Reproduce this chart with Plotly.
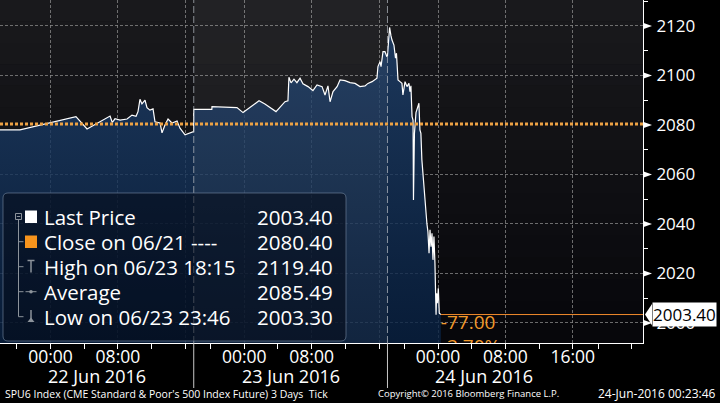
import plotly.graph_objects as go

# ---------------- data ----------------
times = [
    # 22 Jun 2016 session
    "2016-06-21 18:00", "2016-06-21 20:22", "2016-06-22 03:01", "2016-06-22 04:20",
    "2016-06-22 07:04", "2016-06-22 07:20", "2016-06-22 07:39", "2016-06-22 08:15",
    "2016-06-22 09:05", "2016-06-22 09:40", "2016-06-22 10:09", "2016-06-22 10:23",
    "2016-06-22 10:37", "2016-06-22 10:51", "2016-06-22 11:13", "2016-06-22 11:27",
    "2016-06-22 11:48", "2016-06-22 12:10", "2016-06-22 12:24", "2016-06-22 13:00",
    "2016-06-22 13:14", "2016-06-22 13:35", "2016-06-22 13:57", "2016-06-22 14:25",
    "2016-06-22 15:01", "2016-06-22 15:22", "2016-06-22 15:58", "2016-06-22 16:33",
    "2016-06-22 16:59",
    # 23 Jun 2016 session
    "2016-06-22 18:00", "2016-06-22 20:09", "2016-06-22 20:10", "2016-06-22 23:08",
    "2016-06-22 23:51", "2016-06-23 01:45", "2016-06-23 02:27", "2016-06-23 03:46",
    "2016-06-23 04:50", "2016-06-23 05:11", "2016-06-23 05:18", "2016-06-23 05:33",
    "2016-06-23 05:54", "2016-06-23 06:15", "2016-06-23 06:37", "2016-06-23 06:58",
    "2016-06-23 07:34", "2016-06-23 08:09", "2016-06-23 08:38", "2016-06-23 09:14",
    "2016-06-23 09:35", "2016-06-23 09:56", "2016-06-23 10:11", "2016-06-23 10:32",
    "2016-06-23 11:01", "2016-06-23 11:22", "2016-06-23 11:57", "2016-06-23 12:33",
    "2016-06-23 13:09", "2016-06-23 13:44", "2016-06-23 14:20", "2016-06-23 14:41",
    "2016-06-23 15:10", "2016-06-23 15:45", "2016-06-23 15:52", "2016-06-23 16:07",
    "2016-06-23 16:14", "2016-06-23 16:28", "2016-06-23 16:42", "2016-06-23 16:56",
    # 24 Jun 2016 session
    "2016-06-23 18:00", "2016-06-23 18:04", "2016-06-23 18:15", "2016-06-23 18:25",
    "2016-06-23 18:32", "2016-06-23 18:46", "2016-06-23 18:57", "2016-06-23 19:04",
    "2016-06-23 19:15", "2016-06-23 19:29", "2016-06-23 19:43", "2016-06-23 19:50",
    "2016-06-23 20:05", "2016-06-23 20:19", "2016-06-23 20:33", "2016-06-23 20:40",
    "2016-06-23 20:47", "2016-06-23 20:55", "2016-06-23 21:02", "2016-06-23 21:05",
    "2016-06-23 21:12", "2016-06-23 21:23", "2016-06-23 21:37", "2016-06-23 21:44",
    "2016-06-23 21:51", "2016-06-23 21:58", "2016-06-23 22:05", "2016-06-23 22:20",
    "2016-06-23 22:27", "2016-06-23 22:34", "2016-06-23 22:41", "2016-06-23 22:48",
    "2016-06-23 22:56", "2016-06-23 23:03", "2016-06-23 23:10", "2016-06-23 23:17",
    "2016-06-23 23:24", "2016-06-23 23:31", "2016-06-23 23:38", "2016-06-23 23:46",
    "2016-06-23 23:50", "2016-06-23 23:55", "2016-06-24 00:02", "2016-06-24 00:09",
    "2016-06-24 00:20",
]
prices = [
    2078.0, 2078.0, 2083.4, 2078.4,
    2083.6, 2081.0, 2082.5, 2082.0,
    2082.4, 2084.0, 2083.5, 2085.4,
    2090.4, 2088.5, 2090.0, 2087.0,
    2086.0, 2086.5, 2081.3, 2080.8,
    2076.8, 2080.0, 2082.4, 2080.8,
    2081.6, 2078.7, 2076.0, 2076.9,
    2077.3,
    2086.3, 2086.3, 2087.4, 2087.0,
    2085.0, 2089.8, 2088.5, 2085.4,
    2089.4, 2089.8, 2099.3, 2097.0,
    2098.5, 2097.1, 2098.9, 2096.6,
    2095.5, 2093.9, 2096.2, 2095.5,
    2092.1, 2095.8, 2089.4, 2093.5,
    2095.5, 2098.2, 2097.9, 2097.1,
    2096.8, 2095.5, 2095.8, 2096.8,
    2097.5, 2098.9, 2103.6, 2105.6,
    2103.6, 2109.6, 2109.6, 2107.6,
    2108.0, 2112.0, 2119.4, 2116.0,
    2114.3, 2112.3, 2107.0, 2109.0,
    2098.2, 2097.5, 2096.8, 2092.1,
    2097.5, 2095.5, 2096.8, 2093.5,
    2095.8, 2083.4, 2082.0, 2049.7,
    2076.6, 2085.0, 2088.0, 2088.8,
    2078.0, 2076.6, 2065.9, 2055.0,
    2049.7, 2043.0, 2040.0, 2036.9,
    2028.2, 2037.6, 2030.8, 2036.2,
    2025.5, 2034.9, 2024.1, 2003.3,
    2012.0, 2008.0, 2014.0, 2003.9,
    2003.4,
]

prev_close = 2080.40
last_price = 2003.40
high_price = 2119.40
avg_price = 2085.49
low_price = 2003.30

legend_labels = ["Last Price", "Close on 06/21 ----", "High on 06/23 18:15",
                 "Average", "Low on 06/23 23:46"]
legend_values = [last_price, prev_close, high_price, avg_price, low_price]

y_ticks = [2000, 2020, 2040, 2060, 2080, 2100, 2120]
x_tick_vals = ["2016-06-22 00:00", "2016-06-22 08:00", "2016-06-22 16:00",
               "2016-06-23 00:00", "2016-06-23 08:00", "2016-06-23 16:00",
               "2016-06-24 00:00", "2016-06-24 08:00", "2016-06-24 16:00"]
x_tick_text = ["00:00", "08:00", "", "00:00", "08:00", "", "00:00", "08:00", "16:00"]
session_labels = ["22 Jun 2016", "23 Jun 2016", "24 Jun 2016"]
session_mids = ["2016-06-22 05:30", "2016-06-23 05:30", "2016-06-24 05:30"]
session_starts = ["2016-06-22 18:00", "2016-06-23 18:00"]
x_range = ["2016-06-21 18:00", "2016-06-25 01:20"]
y_range = [1991.9, 2130.5]

footer_left = "SPU6 Index (CME Standard &amp; Poor's 500 Index Future) 3 Days  Tick"
footer_mid = "Copyright\u00a9 2016 Bloomberg Finance L.P."
footer_right = "24-Jun-2016 00:23:46"

# ---------------- layout helpers ----------------
W, H = 643, 343
FONT = "Open Sans, Liberation Sans, Arial, sans-serif"
ORANGE = "#f39a2a"
GRAY = "#8c939b"
Y_PER_PX = (y_range[1] - y_range[0]) / H


def px(x):
    return x / W


def py(y):
    return 1 - y / H


shapes = []

# background vertical gradient
top_c = (25, 25, 28)
bot_c = (7, 7, 11)
n_bands = 16
for i in range(n_bands):
    t = i / (n_bands - 1)
    c = tuple(int(round(top_c[k] + (bot_c[k] - top_c[k]) * t)) for k in range(3))
    shapes.append(dict(type="rect", xref="paper", yref="paper",
                       x0=0, x1=1, y0=1 - (i + 1) / n_bands, y1=1 - i / n_bands,
                       fillcolor=f"rgb{c}", line=dict(width=0), layer="below"))

# lighter shading for the middle session
shapes.append(dict(type="rect", xref="x", yref="paper",
                   x0=session_starts[0], x1=session_starts[1], y0=0, y1=1,
                   fillcolor="rgba(255,255,255,0.045)", line=dict(width=0), layer="above"))

# session separators
for s in session_starts:
    shapes.append(dict(type="line", xref="x", yref="paper", x0=s, x1=s, y0=0, y1=1,
                       line=dict(color="rgba(175,180,188,0.75)", width=1, dash="7px,3px"),
                       layer="above"))
    shapes.append(dict(type="line", xref="x", yref="paper", x0=s, x1=s, y0=0,
                       y1=-(388 - 343) / H,
                       line=dict(color="#c8c8c8", width=1), layer="above"))

# previous close dotted line
shapes.append(dict(type="line", xref="paper", yref="y", x0=0, x1=1,
                   y0=prev_close, y1=prev_close,
                   line=dict(color="#eda244", width=3, dash="3px,2px"), layer="above"))

# last price line
shapes.append(dict(type="line", xref="x", yref="y", x0=times[-1], x1=x_range[1],
                   y0=prices[-1], y1=prices[-1],
                   line=dict(color="#f08a2c", width=1), layer="above"))

# arrow-shaped major ticks on the price axis
for t in y_ticks:
    shapes.append(dict(type="path", xref="paper", yref="y",
                       path=(f"M 1.0000,{t + 3.2 * Y_PER_PX:.3f} "
                             f"L {1 + 9 / W:.5f},{t:.3f} "
                             f"L 1.0000,{t - 3.2 * Y_PER_PX:.3f} Z"),
                       fillcolor="white", line=dict(width=0), layer="above"))

# legend box (rounded)
bx0, by0, bx1, by1, r = 3, 193, 346, 341, 5


def P(x, y):
    return f"{px(x):.5f},{py(y):.5f}"


box_path = (f"M {P(bx0 + r, by0)} L {P(bx1 - r, by0)} Q {P(bx1, by0)} {P(bx1, by0 + r)} "
            f"L {P(bx1, by1 - r)} Q {P(bx1, by1)} {P(bx1 - r, by1)} "
            f"L {P(bx0 + r, by1)} Q {P(bx0, by1)} {P(bx0, by1 - r)} "
            f"L {P(bx0, by0 + r)} Q {P(bx0, by0)} {P(bx0 + r, by0)} Z")
shapes.append(dict(type="path", xref="paper", yref="paper", path=box_path,
                   fillcolor="rgba(3,10,22,0.55)",
                   line=dict(color="rgba(110,130,155,0.65)", width=1), layer="above"))

row_y = [216.7, 241.7, 266.7, 291.7, 316.7]

# tree connector
shapes.append(dict(type="rect", xref="paper", yref="paper",
                   x0=px(15.5), x1=px(21.5), y0=py(219.5), y1=py(213.5),
                   line=dict(color=GRAY, width=1), fillcolor="rgba(0,0,0,0)", layer="above"))
shapes.append(dict(type="line", xref="paper", yref="paper",
                   x0=px(16.8), x1=px(20.2), y0=py(216.5), y1=py(216.5),
                   line=dict(color=GRAY, width=1), layer="above"))
shapes.append(dict(type="line", xref="paper", yref="paper",
                   x0=px(18.5), x1=px(18.5), y0=py(219.5), y1=py(row_y[-1]),
                   line=dict(color=GRAY, width=1), layer="above"))
for yy in row_y[1:]:
    shapes.append(dict(type="line", xref="paper", yref="paper",
                       x0=px(18.5), x1=px(23.5), y0=py(yy), y1=py(yy),
                       line=dict(color=GRAY, width=1), layer="above"))

# legend icons
shapes.append(dict(type="rect", xref="paper", yref="paper",
                   x0=px(25), x1=px(37), y0=py(223), y1=py(210.5),
                   fillcolor="white", line=dict(width=0), layer="above"))
shapes.append(dict(type="rect", xref="paper", yref="paper",
                   x0=px(25), x1=px(37), y0=py(248), y1=py(235.5),
                   fillcolor="#f7941d", line=dict(width=0), layer="above"))
# high "T"
shapes.append(dict(type="line", xref="paper", yref="paper",
                   x0=px(27.5), x1=px(34.5), y0=py(260.5), y1=py(260.5),
                   line=dict(color=GRAY, width=1.5), layer="above"))
shapes.append(dict(type="line", xref="paper", yref="paper",
                   x0=px(31), x1=px(31), y0=py(260.5), y1=py(272.5),
                   line=dict(color=GRAY, width=1.5), layer="above"))
# average "-o-"
shapes.append(dict(type="line", xref="paper", yref="paper",
                   x0=px(25.5), x1=px(36.5), y0=py(291.7), y1=py(291.7),
                   line=dict(color=GRAY, width=1), layer="above"))
shapes.append(dict(type="circle", xref="paper", yref="paper",
                   x0=px(29.2), x1=px(32.8), y0=py(293.5), y1=py(289.9),
                   fillcolor=GRAY, line=dict(width=0), layer="above"))
# low
shapes.append(dict(type="line", xref="paper", yref="paper",
                   x0=px(31), x1=px(31), y0=py(310), y1=py(319),
                   line=dict(color=GRAY, width=1.5), layer="above"))
shapes.append(dict(type="path", xref="paper", yref="paper",
                   path=f"M {P(27.5, 322)} L {P(34.5, 322)} L {P(31, 317.5)} Z",
                   fillcolor=GRAY, line=dict(width=0), layer="above"))

# notch of last-price label
shapes.append(dict(type="path", xref="paper", yref="y",
                   path=(f"M {1 + 2 / W:.5f},{last_price} "
                         f"L {1 + 9 / W:.5f},{last_price + 4.3} "
                         f"L {1 + 9 / W:.5f},{last_price - 4.3} Z"),
                   fillcolor="white", line=dict(width=0), layer="above"))

annotations = []
for lab, val, yy in zip(legend_labels, legend_values, row_y):
    annotations.append(dict(xref="paper", yref="paper", x=px(42), y=py(yy),
                            xanchor="left", yanchor="middle", text=lab, showarrow=False,
                            font=dict(family=FONT, size=20.5, color="white")))
    annotations.append(dict(xref="paper", yref="paper", x=px(335), y=py(yy),
                            xanchor="right", yanchor="middle", text=f"{val:.2f}",
                            showarrow=False,
                            font=dict(family=FONT, size=20.5, color="white")))

for lab, mid in zip(session_labels, session_mids):
    annotations.append(dict(xref="x", yref="paper", x=mid, y=-(376 - 343) / H,
                            xanchor="center", yanchor="middle", text=lab, showarrow=False,
                            font=dict(family=FONT, size=18, color="white")))

footer_y = -(394 - 343) / H
annotations.append(dict(xref="paper", yref="paper", x=px(3), y=footer_y, xanchor="left",
                        yanchor="middle", text=footer_left, showarrow=False,
                        font=dict(family=FONT, size=10.5, color="white")))
annotations.append(dict(xref="paper", yref="paper", x=px(376), y=footer_y, xanchor="left",
                        yanchor="middle", text=footer_mid, showarrow=False,
                        font=dict(family=FONT, size=9.5, color="white")))
annotations.append(dict(xref="paper", yref="paper", x=px(718), y=footer_y, xanchor="right",
                        yanchor="middle", text=footer_right, showarrow=False,
                        font=dict(family=FONT, size=12, color="white")))

annotations.append(dict(xref="paper", yref="y", x=1 + 9 / W, y=last_price,
                        xanchor="left", yanchor="middle", text=f"{last_price:.2f}",
                        showarrow=False, bgcolor="white", borderpad=0,
                        font=dict(family=FONT, size=17, color="black")))

change = last_price - prev_close
pct = change / prev_close * 100

fig = go.Figure()
fig.add_trace(go.Scatter(
    x=times, y=prices, mode="lines",
    line=dict(color="white", width=1.2),
    fill="tozeroy",
    fillgradient=dict(type="vertical",
                      colorscale=[[0, "rgba(8,33,66,0.8)"], [1, "rgba(30,64,108,0.8)"]],
                      start=1992, stop=2120),
    hoverinfo="skip", showlegend=False,
))
fig.add_trace(go.Scatter(
    x=[times[-1]], y=[prices[-1]], mode="text",
    text=[f"{change:.2f}<br>{pct:.2f}%"], textposition="bottom right",
    textfont=dict(family=FONT, size=19, color=ORANGE),
    cliponaxis=True, hoverinfo="skip", showlegend=False,
))

fig.update_layout(
    width=720, height=403,
    margin=dict(l=0, r=77, t=0, b=60, pad=0),
    paper_bgcolor="black", plot_bgcolor="#111114",
    showlegend=False,
    shapes=shapes, annotations=annotations,
    font=dict(family=FONT, color="white"),
    xaxis=dict(
        type="date", range=x_range,
        rangebreaks=[dict(bounds=[17, 18], pattern="hour")],
        tickmode="array", tickvals=x_tick_vals, ticktext=x_tick_text,
        ticks="outside", ticklen=5, tickcolor="white", tickwidth=1,
        ticklabelstandoff=-7,
        tickfont=dict(family=FONT, size=17.5, color="white"),
        showgrid=True, gridcolor="rgba(140,140,140,0.75)", griddash="3px,2px", gridwidth=1,
        showline=True, linecolor="white", linewidth=1,
        minor=dict(tickmode="linear", tick0="2016-06-21 00:00", dtick=4 * 3600 * 1000,
                   ticks="outside", ticklen=5, tickcolor="white", showgrid=False),
        zeroline=False, fixedrange=True,
    ),
    yaxis=dict(
        side="right", range=y_range,
        tickmode="array", tickvals=y_ticks,
        ticks="outside", ticklen=9, tickwidth=1, tickcolor="rgba(0,0,0,0)",
        tickfont=dict(family=FONT, size=17, color="white"),
        showgrid=True, gridcolor="rgba(140,140,140,0.75)", griddash="3px,2px", gridwidth=1,
        showline=True, linecolor="white", linewidth=1,
        minor=dict(tickmode="linear", tick0=2010, dtick=20, ticks="outside",
                   ticklen=4, tickcolor="white", showgrid=False),
        zeroline=False, fixedrange=True,
    ),
)

fig.write_html("out.html", config={"displayModeBar": False},
               post_script="document.body.style.margin='0';document.body.style.background='black';")
